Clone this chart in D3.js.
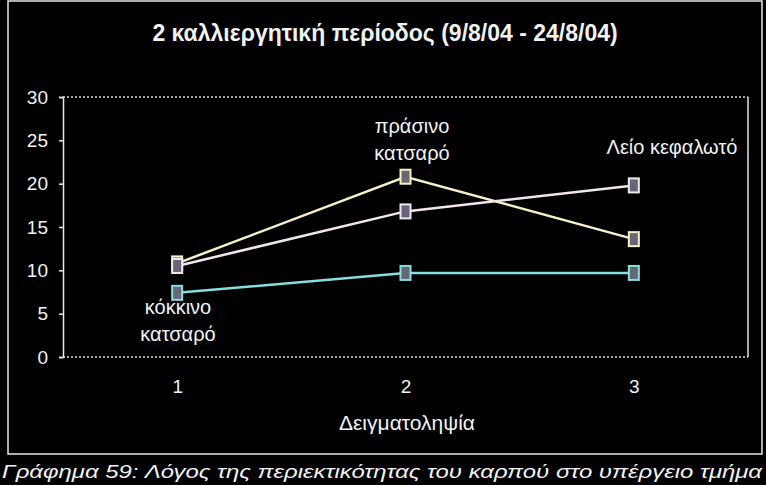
<!DOCTYPE html>
<html>
<head>
<meta charset="utf-8">
<script src="https://cdn.jsdelivr.net/npm/d3@7"></script>
<style>
  body { margin: 0; background: #000; }
  text { font-family: "Liberation Sans", Arial, sans-serif; fill: #f2f2f2; }
</style>
</head>
<body>
<svg id="chart" width="766" height="485"></svg>
<script>
const categories = ["1", "2", "3"];
const yTicks = [0, 5, 10, 15, 20, 25, 30];
const prasinoKatsaro = [10.8, 20.8, 13.6];
const leioKefaloto = [10.5, 16.8, 19.8];
const kokkinoKatsaro = [7.4, 9.7, 9.7];

const series = [
  { name: "πράσινο κατσαρό", values: prasinoKatsaro, color: "#f6f0c4" },
  { name: "Λείο κεφαλωτό", values: leioKefaloto, color: "#f2e6ee" },
  { name: "κόκκινο κατσαρό", values: kokkinoKatsaro, color: "#86dede" }
];

const width = 766, height = 485;
const plot = { left: 63, right: 748, top: 97, bottom: 357 };

const svg = d3.select("#chart");

svg.append("rect").attr("width", width).attr("height", height).attr("fill", "#000");

// outer frame
svg.append("rect")
  .attr("x", 8).attr("y", 1)
  .attr("width", 754).attr("height", 453)
  .attr("fill", "none").attr("stroke", "#e8e8e8").attr("stroke-width", 1.5);

svg.append("text")
  .attr("x", 385).attr("y", 41)
  .attr("text-anchor", "middle")
  .attr("font-size", 23).attr("font-weight", "bold")
  .text("2 καλλιεργητική περίοδος (9/8/04 - 24/8/04)");

const x = d3.scalePoint()
  .domain(categories)
  .range([plot.left, plot.right])
  .padding(0.5);

const y = d3.scaleLinear()
  .domain([0, 30])
  .range([plot.bottom, plot.top]);

// plot area border: dotted top/bottom, solid sides
const g = svg.append("g");
[plot.top, plot.bottom].forEach(py => {
  g.append("line")
    .attr("x1", plot.left).attr("x2", plot.right)
    .attr("y1", py).attr("y2", py)
    .attr("stroke", "#dddddd").attr("stroke-width", 1.5)
    .attr("stroke-dasharray", "2,2");
});
g.append("line")
  .attr("x1", plot.right).attr("x2", plot.right)
  .attr("y1", plot.top).attr("y2", plot.bottom)
  .attr("stroke", "#e0e0e0").attr("stroke-width", 1.5);

const yAxis = svg.append("g")
  .attr("transform", `translate(${plot.left},0)`)
  .call(d3.axisLeft(y).tickValues(yTicks).tickSize(4).tickPadding(11));
yAxis.selectAll("path, line").attr("stroke", "#e8e8e8").attr("stroke-width", 1.5);
yAxis.selectAll("text").attr("font-size", 19).attr("fill", "#f2f2f2")
  .style("font-family", "Liberation Sans, Arial, sans-serif");

const xAxis = svg.append("g")
  .attr("transform", `translate(0,${plot.bottom})`)
  .call(d3.axisBottom(x).tickSize(0).tickPadding(23));
xAxis.select(".domain").remove();
xAxis.selectAll("text").attr("font-size", 19).attr("fill", "#f2f2f2")
  .style("font-family", "Liberation Sans, Arial, sans-serif");

svg.append("text")
  .attr("x", 407).attr("y", 430)
  .attr("text-anchor", "middle")
  .attr("font-size", 21)
  .text("Δειγματοληψία");

const line = d3.line()
  .x((d, i) => x(categories[i]))
  .y(d => y(d));

series.forEach(s => {
  svg.append("path")
    .datum(s.values)
    .attr("fill", "none")
    .attr("stroke", s.color)
    .attr("stroke-width", 2.5)
    .attr("d", line);
  svg.selectAll(null)
    .data(s.values)
    .join("rect")
    .attr("x", (d, i) => x(categories[i]) - 5)
    .attr("y", d => y(d) - 7)
    .attr("width", 10).attr("height", 14)
    .attr("fill", "#667")
    .attr("stroke", s.color).attr("stroke-width", 2);
});

// data labels
const labels = [
  { lines: ["πράσινο", "κατσαρό"], cx: 412, cy: [133, 160] },
  { lines: ["Λείο κεφαλωτό"], cx: 672, cy: [154] },
  { lines: ["κόκκινο", "κατσαρό"], cx: 178, cy: [314, 341] }
];
labels.forEach(l => {
  l.lines.forEach((t, i) => {
    svg.append("text")
      .attr("x", l.cx).attr("y", l.cy[i])
      .attr("text-anchor", "middle")
      .attr("font-size", 20)
      .text(t);
  });
});

svg.append("text")
  .attr("x", 2).attr("y", 478)
  .attr("font-size", 19).attr("font-style", "italic")
  .attr("textLength", 760).attr("lengthAdjust", "spacingAndGlyphs")
  .text("Γράφημα 59: Λόγος της περιεκτικότητας του καρπού στο υπέργειο τμήμα");
</script>
</body>
</html>
